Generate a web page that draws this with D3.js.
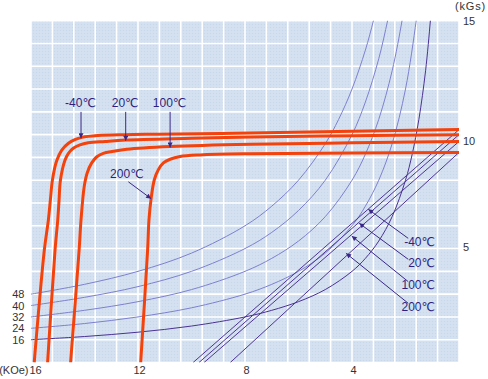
<!DOCTYPE html>
<html>
<head>
<meta charset="utf-8">
<script src="https://cdn.jsdelivr.net/npm/d3@7"></script>
<style>
  html, body { margin: 0; padding: 0; background: #ffffff; }
  svg { display: block; }
  text { font-family: "Liberation Sans", Arial, "DejaVu Sans", sans-serif; }
</style>
</head>
<body>
<svg id="chart" width="488" height="379"></svg>
<script>
// ---------- data ----------
const hTicks = [16, 12, 8, 4];
const bTicks = [5, 10, 15];
const energyLabels = [48, 40, 32, 24, 16];

// iso-energy curves (BH)max [MGOe]: points [H kOe, B kGs]
const energy48 = [[16,3.0],[14,3.43],[12,4.0],[10,4.8],[8,6.0],[7,6.86],[6,8.0],[5,9.6],[4.5,10.67],[4,12.0],[3.5,13.71],[3.2,15.0],[3.0,16.0]];
const energy40 = [[16,2.5],[14,2.86],[12,3.33],[10,4.0],[8,5.0],[7,5.71],[6,6.67],[5,8.0],[4,10.0],[3.5,11.43],[3,13.33],[2.67,15.0],[2.5,16.0]];
const energy32 = [[16,2.0],[14,2.29],[12,2.67],[10,3.2],[8,4.0],[7,4.57],[6,5.33],[5,6.4],[4,8.0],[3.5,9.14],[3,10.67],[2.5,12.8],[2.13,15.0],[2.0,16.0]];
const energy24 = [[16,1.5],[14,1.71],[12,2.0],[10,2.4],[8,3.0],[7,3.43],[6,4.0],[5,4.8],[4,6.0],[3.5,6.86],[3,8.0],[2.5,9.6],[2,12.0],[1.6,15.0],[1.5,16.0]];
const energy16 = [[16,1.0],[14,1.14],[12,1.33],[10,1.6],[8,2.0],[7,2.29],[6,2.67],[5,3.2],[4,4.0],[3.5,4.57],[3,5.33],[2.5,6.4],[2,8.0],[1.75,9.14],[1.5,10.67],[1.25,12.8],[1.07,15.0],[1.0,16.0]];

// intrinsic demagnetization curves (red) [H kOe, B kGs]
const temps = ["-40℃", "20℃", "100℃", "200℃"];
const intrinsicM40 = [[15.88,0],[15.5,4.95],[15.35,6.26],[15.27,7.2],[15.2,8.0],[15.04,8.85],[14.85,9.32],[14.6,9.62],[14.36,9.78],[14.1,9.88],[13.5,9.96],[12.5,10.0],[11.25,10.02],[7.8,10.07],[4,10.15],[0,10.22]];
const intrinsic20 = [[15.38,0],[15.1,4.95],[15.0,6.26],[14.95,7.15],[14.9,8.0],[14.73,8.88],[14.6,9.18],[14.42,9.4],[14.17,9.55],[13.86,9.64],[13.23,9.7],[12.46,9.76],[10,9.84],[7.8,9.9],[4,9.95],[0,10.0]];
const intrinsic100 = [[14.52,0],[14.2,4.95],[14.13,6.26],[14.01,7.73],[13.9,8.32],[13.73,8.76],[13.54,9.03],[13.3,9.18],[12.92,9.27],[12.42,9.36],[10.8,9.48],[7.8,9.58],[4,9.64],[0,9.7]];
const intrinsic200 = [[11.9,0],[11.64,4.95],[11.59,6.26],[11.51,7.19],[11.39,8.02],[11.24,8.46],[11.05,8.76],[10.8,8.92],[10.43,9.04],[9.68,9.11],[7.8,9.16],[4,9.19],[0,9.22]];

// normal demagnetization lines [H kOe, B kGs]
const normalM40 = [[9.94,0],[0,10.22]];
const normal20  = [[9.72,0],[0,10.0]];
const normal100 = [[9.53,0],[0,9.7]];
const normal200 = [[8.55,0],[0,9.22]];

// annotation anchors in data units: [startH, startB, tipH, tipB]
const topNotes = [
  ["-40℃", 14.13, 11.0, 14.13, 9.84],
  ["20℃", 12.46, 11.0, 12.46, 9.73],
  ["100℃", 10.8, 11.0, 10.8, 9.44]
];
const note200 = ["200℃", 12.36, 7.93, 11.51, 7.19];
const rightNotes = [
  ["-40℃", 1.9, 5.45, 3.39, 6.72],
  ["20℃", 1.9, 4.53, 3.73, 6.11],
  ["100℃", 1.9, 3.55, 4.01, 5.55],
  ["200℃", 1.9, 2.6, 4.22, 4.79]
];

// ---------- drawing ----------
const svg = d3.select("#chart");
const x = d3.scaleLinear().domain([16, 0]).range([31, 459]);
const y = d3.scaleLinear().domain([0, 15]).range([362.5, 20.7]);

const defs = svg.append("defs");
const pat = defs.append("pattern").attr("id", "dots").attr("width", 3).attr("height", 3)
  .attr("patternUnits", "userSpaceOnUse");
pat.append("rect").attr("width", 3).attr("height", 3).attr("fill", "#d3e0f0");
pat.append("rect").attr("x", 0).attr("y", 0).attr("width", 1).attr("height", 1).attr("fill", "#c9d7ea");
pat.append("rect").attr("x", 1.5).attr("y", 1.5).attr("width", 1).attr("height", 1).attr("fill", "#dbe6f3");

defs.append("clipPath").attr("id", "clip").append("rect")
  .attr("x", x(16)).attr("y", y(15)).attr("width", x(0) - x(16)).attr("height", y(0) - y(15));

const arrowColor = "#3a2888";
defs.append("marker").attr("id", "arr").attr("viewBox", "0 0 10 10")
  .attr("refX", 10).attr("refY", 5).attr("markerWidth", 6).attr("markerHeight", 5)
  .attr("markerUnits", "userSpaceOnUse").attr("orient", "auto")
  .append("path").attr("d", "M0,0 L10,5 L0,10 Z").attr("fill", arrowColor);

// background
svg.append("rect").attr("x", x(16)).attr("y", y(15))
  .attr("width", x(0) - x(16)).attr("height", y(0) - y(15)).attr("fill", "url(#dots)");

// grid
const gx = d3.range(0, 21).map(i => i * 0.8);
const gy = d3.range(0, 16);
const grid = svg.append("g").attr("stroke", "#ffffff").attr("stroke-width", 1.6);
grid.selectAll("line.v").data(gx).join("line").attr("class", "v")
  .attr("x1", d => x(d)).attr("x2", d => x(d)).attr("y1", y(15)).attr("y2", y(0));
grid.selectAll("line.h").data(gy).join("line").attr("class", "h")
  .attr("x1", x(16)).attr("x2", x(0)).attr("y1", d => y(d)).attr("y2", d => y(d));

const plot = svg.append("g").attr("clip-path", "url(#clip)");
const line = d3.line().x(d => x(d[0])).y(d => y(d[1])).curve(d3.curveCatmullRom.alpha(0.5));
const straight = d3.line().x(d => x(d[0])).y(d => y(d[1]));

// energy curves
[[energy48, "#7d80cf"], [energy40, "#7d80cf"], [energy32, "#7d80cf"], [energy24, "#7d80cf"], [energy16, "#4a3293"]]
  .forEach(([pts, c]) => {
    plot.append("path").attr("d", line(pts)).attr("fill", "none").attr("stroke", c).attr("stroke-width", 1);
  });

// normal lines
[normalM40, normal20, normal100, normal200].forEach(pts => {
  plot.append("path").attr("d", straight(pts)).attr("fill", "none").attr("stroke", "#4e3594").attr("stroke-width", 1);
});

// intrinsic curves
[intrinsicM40, intrinsic20, intrinsic100, intrinsic200].forEach(pts => {
  plot.append("path").attr("d", line(pts)).attr("fill", "none").attr("stroke", "#f3420c")
    .attr("stroke-width", 3).attr("stroke-linejoin", "round");
});

// annotations
const labelColor = "#2e1f7e";
function arrow(n) {
  svg.append("line").attr("x1", x(n[1])).attr("y1", y(n[2])).attr("x2", x(n[3])).attr("y2", y(n[4]))
    .attr("stroke", arrowColor).attr("stroke-width", 1).attr("marker-end", "url(#arr)");
}
topNotes.forEach(n => {
  arrow(n);
  svg.append("text").attr("x", x(n[1]) - 0.5).attr("y", y(n[2]) - 4.5).attr("text-anchor", "middle")
    .attr("font-size", 12).attr("fill", labelColor).text(n[0]);
});
arrow(note200);
svg.append("text").attr("x", x(note200[1]) - 1.5).attr("y", y(note200[2]) - 3.5).attr("text-anchor", "middle")
  .attr("font-size", 12).attr("fill", labelColor).text(note200[0]);
rightNotes.forEach(n => {
  arrow(n);
  svg.append("text").attr("x", 435).attr("y", y(n[2]) + 7.5).attr("text-anchor", "end")
    .attr("font-size", 12).attr("fill", labelColor).text(n[0]);
});

// axis labels
const tickColor = "#333333";
svg.selectAll("text.bt").data(bTicks).join("text").attr("class", "bt")
  .attr("x", 463).attr("y", d => y(d) + 4 + (d === 10 ? 6 : 0) + (d === 5 ? -1.5 : 0))
  .attr("font-size", 11).attr("fill", tickColor).text(d => d);
svg.append("text").attr("x", 486).attr("y", 10).attr("text-anchor", "end")
  .attr("font-size", 11).attr("letter-spacing", 0.8).attr("fill", tickColor).text("(kGs)");

svg.selectAll("text.ht").data(hTicks).join("text").attr("class", "ht")
  .attr("x", d => d === 16 ? x(d) - 1.5 : x(d) + 1.5).attr("y", 374)
  .attr("text-anchor", d => d === 16 ? "start" : "middle")
  .attr("font-size", 11).attr("fill", tickColor).text(d => d);
svg.append("text").attr("x", 28.5).attr("y", 374).attr("text-anchor", "end")
  .attr("font-size", 11).attr("fill", tickColor).text("(KOe)");

const energyCurves = [energy48, energy40, energy32, energy24, energy16];
svg.selectAll("text.el").data(energyLabels).join("text").attr("class", "el")
  .attr("x", 24.5).attr("y", (d, i) => y(energyCurves[i][0][1]) + 4)
  .attr("text-anchor", "end").attr("font-size", 11).attr("fill", tickColor).text(d => d);
</script>
</body>
</html>
